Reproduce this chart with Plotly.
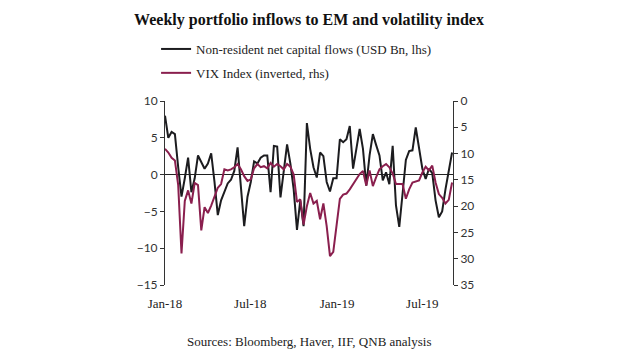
import plotly.graph_objects as go
import pandas as pd

# Weekly observations
start_date = "2018-01-01"
n_weeks = 88
dates = pd.date_range(start_date, periods=n_weeks, freq="7D")

# Non-resident net capital flows (USD Bn, lhs)
flows = [
    8.0, 5.0, 5.8, 5.5, 1.0, -3.0, -0.5, 2.3, -2.4, -0.5,
    2.6, 1.8, 0.8, 1.5, 2.9, -1.0, -5.5, -3.5, -2.4, -1.2,
    -0.7, 0.5, 3.7, -1.5, -7.0, -3.0, -1.0, 1.8, 1.5, 2.3,
    2.6, 2.6, -2.4, 3.9, 3.8, -3.1, 0.5, 4.1, 1.5, -2.0,
    -7.5, -3.5, -7.0, 7.0, 3.5, 1.0, -0.4, 3.0, 2.5, -1.0,
    -2.3, -0.5, -0.5, 4.8, 4.4, 4.8, 6.6, 0.8, 3.5, 6.2,
    3.5, -1.5, 2.6, 5.5, 4.0, 2.6, -0.8, 0.3, -1.3, 3.9,
    -4.2, -7.1, -2.6, 2.0, 3.2, 3.3, 6.4, 3.7, 0.8, -0.6,
    0.8, 0.2, -3.5, -5.8, -5.0, -2.0, 0.3, 3.0,
]

# VIX Index (inverted, rhs)
vix = [
    9.1, 9.8, 10.8, 11.3, 16.0, 29.0, 19.0, 17.0, 19.5, 15.6,
    16.0, 24.6, 20.2, 21.3, 19.9, 18.0, 16.5, 15.8, 13.0, 13.2,
    13.0, 12.6, 12.0, 13.0, 14.3, 15.2, 14.9, 12.8, 12.0, 12.6,
    12.4, 12.8, 11.8, 12.5, 12.0, 12.4, 13.0, 12.0, 12.5, 14.0,
    19.2, 18.7, 23.5, 20.0, 17.5, 19.5, 19.0, 22.5, 19.5, 23.8,
    29.5, 28.7, 24.0, 18.6, 17.8, 17.6, 16.8, 15.8, 14.8, 13.9,
    13.3, 16.1, 13.2, 16.2, 14.5, 13.0, 12.4, 12.0, 12.6, 13.8,
    15.8, 15.8, 15.8, 18.6, 16.8, 15.5, 15.3, 15.1, 13.6, 12.5,
    13.2, 12.3, 15.5, 17.7, 18.4, 19.5, 18.8, 15.5,
]

x_tickvals = ["2018-01-01", "2018-07-01", "2019-01-01", "2019-07-01"]
x_ticktext = ["Jan-18", "Jul-18", "Jan-19", "Jul-19"]

title_text = "Weekly portfolio inflows to EM and volatility index"
source_text = "Sources: Bloomberg, Haver, IIF, QNB analysis"
flows_name = "Non-resident net capital flows (USD Bn, lhs)"
vix_name = "VIX Index (inverted, rhs)"

serif = "Liberation Serif, Times New Roman, serif"
sans = "Lato, Open Sans, sans-serif"

# The page body has an 8px default margin, so the figure is sized to fit
# the 620x355 window from (8, 8).
W, H = 612, 347
L, R, T, B = 157, 167, 93, 70
PH = H - T - B

fig = go.Figure()
fig.add_trace(go.Scatter(
    x=dates, y=flows, name=flows_name, mode="lines",
    line=dict(color="#1c1c1f", width=2), yaxis="y", legendgroup="a",
))
fig.add_trace(go.Scatter(
    x=dates, y=vix, name=vix_name, mode="lines",
    line=dict(color="#8a1f4e", width=2), yaxis="y2", legendgroup="b",
))

fig.update_layout(
    width=W, height=H,
    margin=dict(l=L, r=R, t=T, b=B, autoexpand=False),
    paper_bgcolor="white", plot_bgcolor="white",
    showlegend=True,
    title=dict(text="<b>" + title_text + "</b>", x=0.5, xref="paper",
               xanchor="center", y=1 - 11 / H, yref="container",
               yanchor="middle",
               font=dict(family=serif, size=16, color="#111")),
    legend=dict(x=-0.031, y=1 + (T - 26) / PH, xanchor="left", yanchor="top",
                orientation="v", font=dict(family=serif, size=13, color="#222"),
                tracegroupgap=4, itemwidth=30, bgcolor="rgba(0,0,0,0)"),
    xaxis=dict(
        type="date",
        range=[dates[0], dates[-1] + pd.Timedelta(days=2)],
        tickvals=x_tickvals, ticktext=x_ticktext,
        showgrid=False, showline=False, zeroline=False, ticks="",
        ticklabelstandoff=9,
        tickfont=dict(family=serif, size=13, color="#222"),
    ),
    yaxis=dict(
        range=[-15, 10], dtick=5, tick0=0,
        showgrid=False, showline=True, linecolor="#333", linewidth=1,
        ticks="outside", ticklen=4, tickcolor="#333",
        zeroline=True, zerolinecolor="#222", zerolinewidth=1,
        tickfont=dict(family=sans, size=12, color="#333"),
    ),
    yaxis2=dict(
        range=[35, 0], dtick=5, tick0=0, overlaying="y", side="right",
        showgrid=False, showline=True, linecolor="#333", linewidth=1,
        ticks="outside", ticklen=4, tickcolor="#333", zeroline=False,
        tickfont=dict(family=sans, size=12, color="#333"),
    ),
    annotations=[dict(
        text=source_text, x=0.5, xref="paper", y=(H - B - 333) / PH,
        yref="paper", yanchor="middle", xanchor="center", showarrow=False,
        font=dict(family=serif, size=13, color="#222"),
    )],
)

fig.write_html("out.html")
